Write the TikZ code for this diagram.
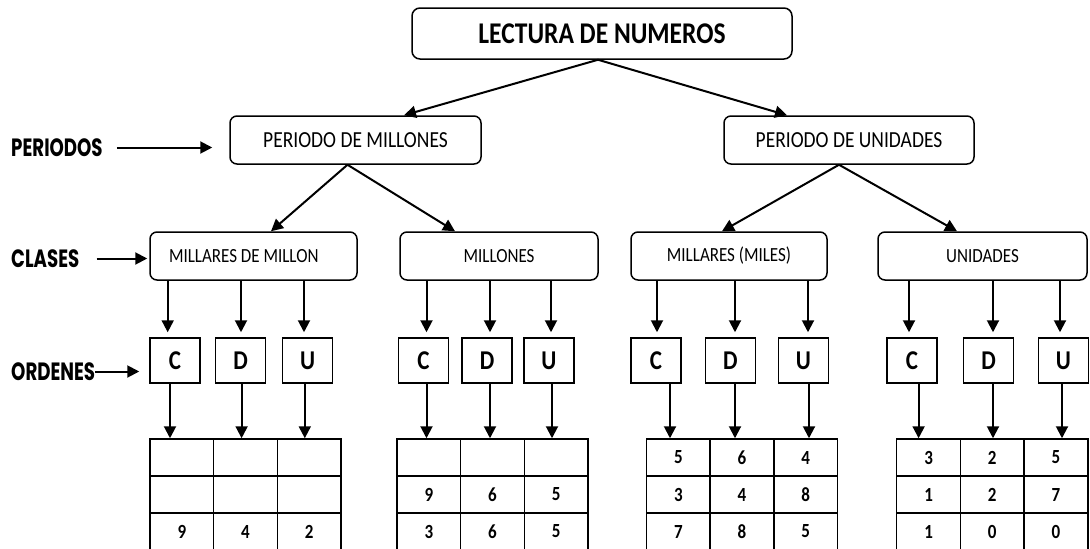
\documentclass[tikz,border=0pt]{standalone}
\usepackage{fontspec}
\setmainfont{Carlito}
\newfontfamily\labfont{Poppins}
\usetikzlibrary{arrows.meta}
\newcommand\tallt[1]{\scalebox{1}[1.18]{#1}}
\newcommand\talll[1]{\scalebox{0.91}[1.25]{#1}}
\begin{document}
\begin{tikzpicture}[x=1pt,y=-1pt,
  arr/.style={-{Triangle[length=12pt,width=12pt]}, line width=2pt},
  rbox/.style={draw, line width=1.5pt, rounded corners=7pt, inner sep=0pt},
  pbox/.style={rbox, minimum width=250pt, minimum height=48pt, font=\fontsize{19.5}{20}\selectfont},
  cbox/.style={rbox, minimum height=48pt, font=\fontsize{17}{18}\selectfont},
  sqbox/.style={draw, line width=1.5pt, minimum width=50pt, minimum height=45pt, inner sep=0pt, font=\fontsize{23}{23}\selectfont\bfseries},
  cell/.style={draw, line width=1.5pt, minimum width=63.7pt, minimum height=37pt, inner sep=0pt, font=\fontsize{17}{17}\selectfont\bfseries},
  lab/.style={anchor=west, inner sep=0pt, font=\labfont\fontsize{20}{20}\selectfont\bfseries}
]
\useasboundingbox (0,0) rectangle (1090,549);
\clip (0,0) rectangle (1090,549);

% top
\node[rbox, minimum width=380pt, minimum height=51pt, rounded corners=8pt,
      font=\fontsize{25.5}{26}\selectfont\bfseries] (top) at (602,33.5) {\tallt{LECTURA DE NUMEROS}};

% periods
\node[pbox, minimum width=251pt] (pm) at (355.5,140) {\tallt{PERIODO DE MILLONES}};
\node[pbox] (pu) at (849,140) {\tallt{PERIODO DE UNIDADES}};

% classes
\node[cbox, minimum width=207pt] (c1) at (253.5,256) {\makebox[207pt][l]{\hspace*{19pt}\tallt{MILLARES DE MILLON}}};
\node[cbox, minimum width=198pt] (c2) at (499,256) {\tallt{MILLONES}};
\node[cbox, minimum width=196pt] (c3) at (729,256) {\tallt{MILLARES (MILES)}};
\node[cbox, minimum width=209pt] (c4) at (982.5,256) {\tallt{UNIDADES}};

% left labels
\node[lab] (lp) at (11,147.5) {\talll{PERIODOS}};
\node[lab] (lc) at (11,258.5) {\talll{CLASES}};
\node[lab] (lo) at (11,371.5) {\talll{ORDENES}};

% arrows top
\draw[arr] ([xshift=-4pt]top.south) -- ([xshift=48.5pt]pm.north);
\draw[arr] ([xshift=-4pt]top.south) -- ([xshift=-62pt]pu.north);
\draw[arr] ([xshift=-8pt]pm.south) -- ([xshift=17.5pt]c1.north);
\draw[arr] ([xshift=-8pt]pm.south) -- ([xshift=-44pt]c2.north);
\draw[arr] ([xshift=-10pt]pu.south) -- ([xshift=-7pt]c3.north);
\draw[arr] ([xshift=-10pt]pu.south) -- ([xshift=-25.5pt]c4.north);

% tables
\foreach \g/\L/\r/\da/\db/\dc in {
  1/150/1/{}/{}/{}, 1/150/2/{}/{}/{}, 1/150/3/9/4/2,
  2/397/1/{}/{}/{}, 2/397/2/9/6/5, 2/397/3/3/6/5,
  3/646.5/1/5/6/4, 3/646.5/2/3/4/8, 3/646.5/3/7/8/5,
  4/896.7/1/3/2/5, 4/896.7/2/1/2/7, 4/896.7/3/1/0/0}{
  \node[cell] (t\g C\r) at ({\L+31.85},{420.5+37*\r}) {\tallt{\da}};
  \node[cell] (t\g D\r) at ({\L+95.55},{420.5+37*\r}) {\tallt{\db}};
  \node[cell] (t\g U\r) at ({\L+159.25},{420.5+37*\r}) {\tallt{\dc}};
}

% order boxes and arrows
\foreach \g/\l/\cx/\ccx/\xa/\xb/\tx in {
  1/C/175/253.5/167.7/170/181.85,
  1/D/240.5/253.5/241/241.6/245.55,
  1/U/307.7/253.5/304/304.8/309.25,
  2/C/423.5/499/426.5/426.5/428.85,
  2/D/487/499/490/490/492.55,
  2/U/549/499/551/552/556.25,
  3/C/656/729/657/670/678.35,
  3/D/730.3/729/735/735/742.05,
  3/U/803.3/729/808/809/805.75,
  4/C/912/982.5/909/918.6/928.55,
  4/D/988.5/982.5/993/993/992.25,
  4/U/1063.3/982.5/1060/1062/1055.95}{
  \node[sqbox] (g\g\l) at (\cx,360.5) {\tallt{\l}};
  \pgfmathsetmacro\dcl{\xa-\ccx}
  \pgfmathsetmacro\dca{\xa-\cx}
  \pgfmathsetmacro\dcb{\xb-\cx}
  \pgfmathsetmacro\dtb{\xb-\tx}
  \draw[arr, shorten >=5pt] ([xshift=\dcl pt]c\g.south) -- ([xshift=\dca pt]g\g\l.north);
  \draw[arr] ([xshift=\dcb pt]g\g\l.south) -- ([xshift=\dtb pt]t\g\l1.north);
}

% label arrows
\coordinate (pa) at (lp.east -| pm.west);
\draw[arr] ([xshift=14pt]lp.east) -- ([xshift=-17pt]pa);
\coordinate (ca) at (lc.east -| c1.west);
\draw[arr] ([xshift=17pt]lc.east) -- ([xshift=-2pt]ca);
\coordinate (oa) at (lo.east -| g1C.west);
\draw[arr] (lo.east) -- ([xshift=-10pt]oa);
\end{tikzpicture}
\end{document}
